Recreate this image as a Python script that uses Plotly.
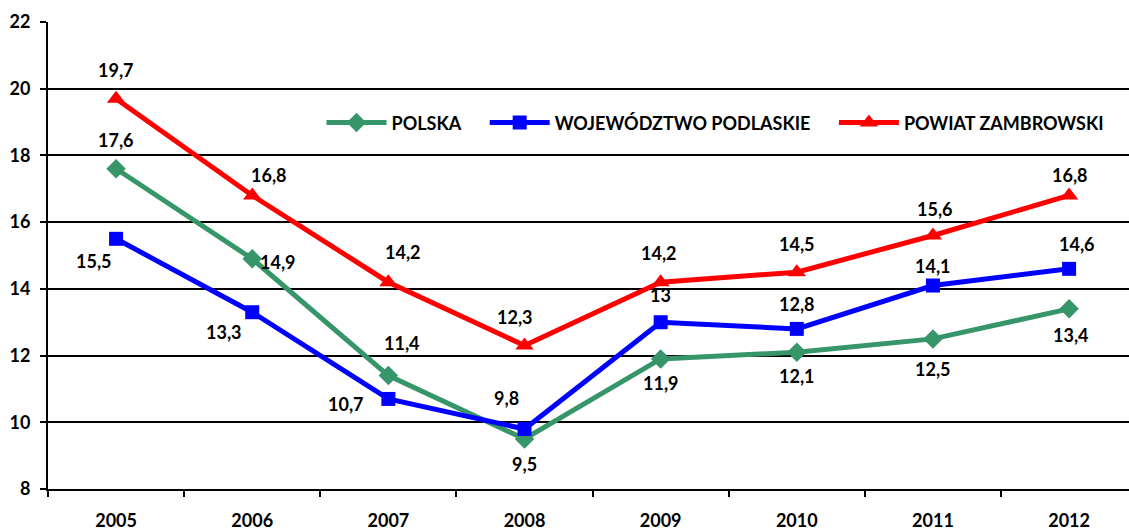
import plotly.graph_objects as go

years = ["2005", "2006", "2007", "2008", "2009", "2010", "2011", "2012"]
polska = [17.6, 14.9, 11.4, 9.5, 11.9, 12.1, 12.5, 13.4]
podlaskie = [15.5, 13.3, 10.7, 9.8, 13.0, 12.8, 14.1, 14.6]
zambrowski = [19.7, 16.8, 14.2, 12.3, 14.2, 14.5, 15.6, 16.8]

# label offsets in pixels (dx, dy) for each point, dy positive = up
polska_off = [(0, 29), (26, -3), (14, 33), (0, -25), (0, -24), (0, -24), (0, -30), (2, -26)]
podlaskie_off = [(-22, -22), (-28, -20), (-42, -5), (-18, 31), (0, 27), (0, 25), (0, 20), (8, 25)]
zambrowski_off = [(0, 29), (17, 20), (15, 30), (-10, 29), (-2, 29), (0, 28), (2, 26), (1, 20)]


def fmt(v):
    return f"<b>{v:g}</b>".replace(".", ",")


pad = "\u00a0" * 4
xpos = list(range(len(years)))

fig = go.Figure()

series = [
    ("POLSKA", polska, polska_off, "#36966A", "diamond", 15),
    ("WOJEWÓDZTWO PODLASKIE", podlaskie, podlaskie_off, "#0000FF", "square", 14),
    ("POWIAT ZAMBROWSKI", zambrowski, zambrowski_off, "#FF0000", "triangle-up", 16),
]

for name, vals, offs, color, symbol, size in series:
    fig.add_trace(
        go.Scatter(
            x=xpos,
            y=vals,
            name=f"<b>{name}</b>{pad}",
            mode="lines+markers",
            line=dict(color=color, width=5),
            marker=dict(symbol=symbol, size=size, color=color),
        )
    )
    for i, v, (dx, dy) in zip(xpos, vals, offs):
        fig.add_annotation(
            x=i,
            y=v,
            text=fmt(v),
            showarrow=False,
            xshift=dx,
            yshift=dy,
            font=dict(size=18, color="black"),
        )

fig.update_layout(
    width=1129,
    height=532,
    paper_bgcolor="white",
    plot_bgcolor="white",
    font=dict(family="Lato, Open Sans, sans-serif", color="black", size=18),
    margin=dict(l=48, r=0, t=22, b=43, autoexpand=False),
    showlegend=True,
    legend=dict(
        orientation="h",
        x=0.253,
        y=0.784,
        xanchor="left",
        yanchor="middle",
        font=dict(size=18),
        bgcolor="rgba(0,0,0,0)",
        itemwidth=60,
    ),
)

fig.update_xaxes(
    range=[-0.5, 7.44],
    automargin=False,
    showgrid=False,
    zeroline=False,
    showline=True,
    linecolor="black",
    linewidth=2,
    ticks="",
    ticklabelstandoff=14,
    tickvals=xpos,
    ticktext=[f"<b>{y}</b>" for y in years],
    minor=dict(
        tick0=-0.5,
        dtick=1,
        ticks="outside",
        ticklen=6,
        tickcolor="black",
        tickwidth=2,
        showgrid=False,
    ),
)

yticks = [8, 10, 12, 14, 16, 18, 20, 22]
fig.update_yaxes(
    range=[8, 22],
    automargin=False,
    showgrid=True,
    gridcolor="black",
    gridwidth=1.5,
    showline=True,
    linecolor="black",
    linewidth=2,
    ticks="outside",
    ticklen=6,
    tickcolor="black",
    tickwidth=2,
    ticklabelstandoff=6,
    tickvals=yticks,
    ticktext=[f"<b>{v}</b>" for v in yticks],
    zeroline=False,
)

fig.write_html(
    "out.html",
    config={"displayModeBar": False},
    post_script="document.body.style.margin='0';document.body.style.overflow='hidden';",
)
